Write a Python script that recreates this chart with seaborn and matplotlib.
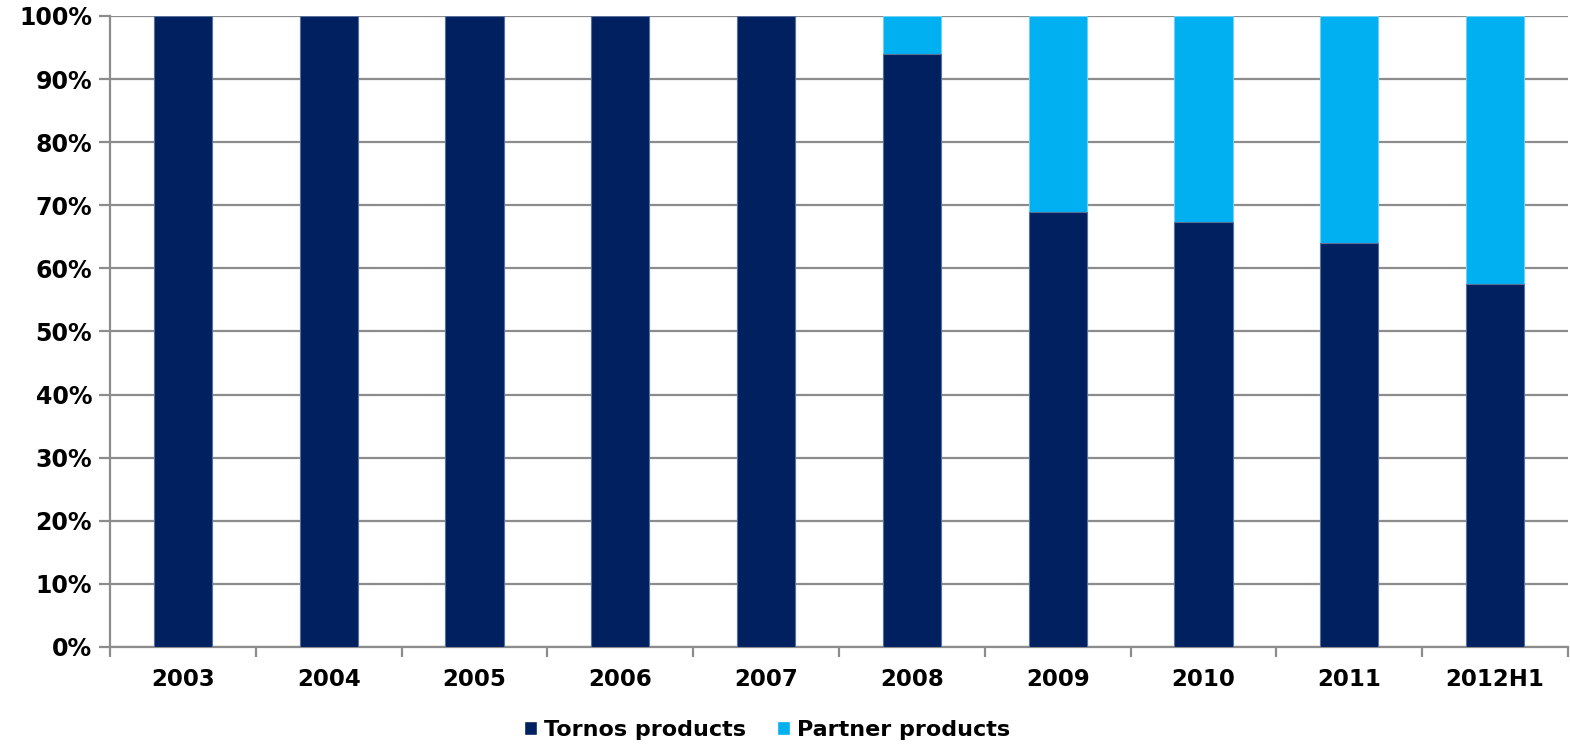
import matplotlib
matplotlib.use("Agg")
import matplotlib.pyplot as plt
import seaborn as sns
import pandas as pd
from matplotlib.patches import Patch

years = ["2003", "2004", "2005", "2006", "2007", "2008", "2009", "2010", "2011", "2012H1"]
tornos = [100, 100, 100, 100, 100, 93.9, 68.9, 67.3, 64.1, 57.5]
partner = [0, 0, 0, 0, 0, 6.1, 31.1, 32.7, 35.9, 42.5]
yticks = [0, 10, 20, 30, 40, 50, 60, 70, 80, 90, 100]

navy = "#002060"
sky = "#00B0F0"
grid_col = "#8c8c8c"

df = pd.DataFrame({"year": years, "tornos": tornos,
                   "total": [t + p for t, p in zip(tornos, partner)]})

sns.set_theme(style="white")
plt.rcParams["font.family"] = ["DejaVu Sans"]

fig = plt.figure(figsize=(15.7, 7.44), dpi=100)
ax = fig.add_axes([0.0701, 0.1304, 0.9286, 0.8481])

sns.barplot(data=df, x="year", y="total", color=sky, width=0.4,
            edgecolor="#6fd0f5", linewidth=0.8, ax=ax, zorder=3)
sns.barplot(data=df, x="year", y="tornos", color=navy, width=0.4,
            edgecolor="#5a6f9a", linewidth=0.8, ax=ax, zorder=4)
# seaborn desaturates; restore exact colours
for i, p in enumerate(ax.patches):
    p.set_facecolor(sky if i < len(years) else navy)

ax.set_ylim(0, 100)
ax.set_xlim(-0.5, len(years) - 0.5)
ax.set_yticks(yticks)
ax.set_yticklabels([f"{v}%" for v in yticks], fontsize=17, fontweight="bold", color="black")
ax.set_xticks(range(len(years)))
ax.set_xticklabels(years, fontsize=16.5, fontweight="bold", color="black")
ax.set_xlabel("")
ax.set_ylabel("")

ax.yaxis.grid(True, color=grid_col, linewidth=1.6, zorder=0)
ax.set_axisbelow(True)

for s in ["top", "right"]:
    ax.spines[s].set_visible(False)
for s in ["left", "bottom"]:
    ax.spines[s].set_color(grid_col)
    ax.spines[s].set_linewidth(1.6)

ax.tick_params(axis="y", length=8, width=1.6, color=grid_col, pad=5, direction="out", left=True)
ax.tick_params(axis="x", length=0, pad=15)
# category boundary ticks on the x axis
ax.set_xticks([i - 0.5 for i in range(len(years) + 1)], minor=True)
ax.tick_params(axis="x", which="minor", length=7, width=1.6, color=grid_col, direction="out", bottom=True)

handles = [Patch(facecolor=navy, label="Tornos products"),
           Patch(facecolor=sky, label="Partner products")]
fig.legend(handles=handles, loc="center", bbox_to_anchor=(0.4885, 0.019), ncol=2,
           frameon=False, prop={"size": 16, "weight": "bold"}, labelcolor="black",
           handlelength=0.6, handleheight=0.6, handletextpad=0.3, columnspacing=1.4)

fig.savefig("out.png", dpi=100)
